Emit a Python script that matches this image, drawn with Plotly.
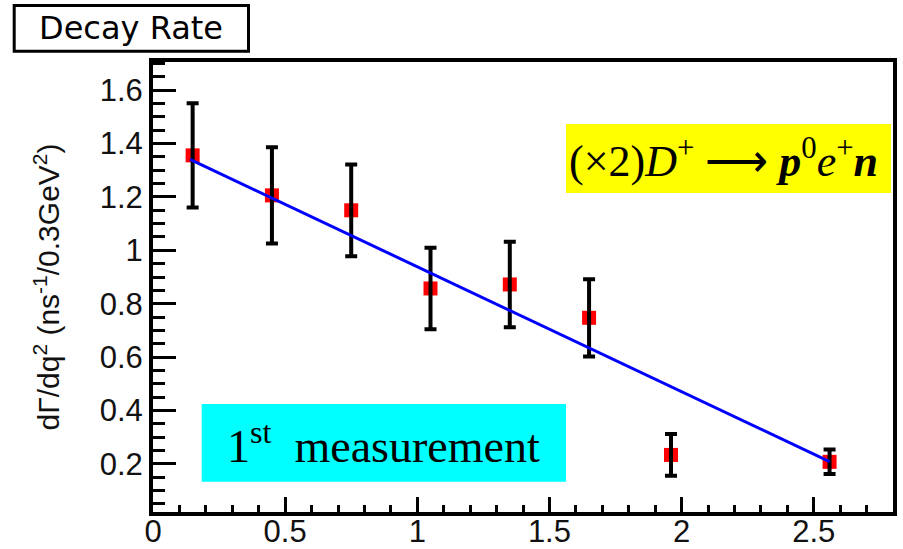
import plotly.graph_objects as go

# ---- data ----
q2 = [0.15, 0.45, 0.75, 1.05, 1.35, 1.65, 1.96, 2.56]
rate = [1.356, 1.206, 1.150, 0.857, 0.872, 0.747, 0.233, 0.207]
rate_err = [0.195, 0.180, 0.172, 0.153, 0.160, 0.145, 0.078, 0.046]
fit_x = [0.14, 2.56]
fit_y = [1.341, 0.208]

x_range = [0, 2.8]
y_range = [0.019, 1.706]

fig = go.Figure()

# markers
fig.add_trace(go.Scatter(
    x=q2, y=rate, mode="markers",
    marker=dict(symbol="square", size=14, color="#ff0000", line=dict(width=0)),
    showlegend=False, hoverinfo="skip"))

# error bars drawn above markers
fig.add_trace(go.Scatter(
    x=q2, y=rate, mode="markers",
    marker=dict(size=1, opacity=0),
    error_y=dict(type="data", array=rate_err, visible=True,
                 color="black", thickness=4, width=6),
    showlegend=False, hoverinfo="skip"))

# fit line
fig.add_trace(go.Scatter(
    x=fit_x, y=fit_y, mode="lines",
    line=dict(color="#0000ff", width=3),
    showlegend=False, hoverinfo="skip"))

axis_common = dict(
    showline=True, linecolor="black", linewidth=4, mirror=True,
    ticks="inside", tickcolor="black", tickwidth=3,
    showgrid=False, zeroline=False,
    tickfont=dict(family="Liberation Sans, Arial, sans-serif", size=31, color="#111111"),
)

fig.update_xaxes(
    range=x_range, tick0=0, dtick=0.5, ticklen=15, ticklabelstandoff=-11,
    minor=dict(ticks="inside", dtick=0.1, ticklen=7, tickwidth=3, tickcolor="black", showgrid=False),
    **axis_common)

fig.update_yaxes(
    range=y_range, tick0=0, dtick=0.2, ticklen=23,
    minor=dict(ticks="inside", dtick=0.05, ticklen=12, tickwidth=3, tickcolor="black", showgrid=False),
    title=dict(text="dΓ/dq<sup>2</sup> (ns<sup>-1</sup>/0.3GeV<sup>2</sup>)",
               font=dict(family="Liberation Sans, Arial, sans-serif", size=30, color="#111111"),
               standoff=32),
    **axis_common)

shapes = [
    # title box
    dict(type="rect", xref="paper", yref="paper",
         x0=(14.2 - 153) / 740, x1=(248.5 - 153) / 740,
         y0=(512 - 51.2) / 450, y1=(512 - 5.5) / 450,
         line=dict(color="black", width=3), fillcolor="white", layer="above"),
    # yellow box
    dict(type="rect", xref="paper", yref="paper",
         x0=(566 - 153) / 740, x1=(891 - 153) / 740,
         y0=(512 - 193) / 450, y1=(512 - 124) / 450,
         line=dict(width=0), fillcolor="#ffff00", layer="above"),
    # cyan box
    dict(type="rect", xref="paper", yref="paper",
         x0=(201.7 - 153) / 740, x1=(566 - 153) / 740,
         y0=(512 - 481.7) / 450, y1=(512 - 404) / 450,
         line=dict(width=0), fillcolor="#00ffff", layer="above"),
]

annotations = [
    dict(text="Decay Rate", xref="paper", yref="paper",
         x=(131 - 153) / 740, y=(512 - 28) / 450, xanchor="center", yanchor="middle",
         showarrow=False,
         font=dict(family="DejaVu Sans, sans-serif", size=32, color="black")),
    dict(text="(×2)<i>D</i><sup>+</sup> ⟶ <b><i>p</i></b><sup>0</sup><i>e</i><sup>+</sup><b><i>n</i></b>",
         xref="paper", yref="paper",
         x=(723 - 153) / 740, y=(512 - 158) / 450, xanchor="center", yanchor="middle",
         showarrow=False,
         font=dict(family="Liberation Serif, Times New Roman, serif", size=44, color="black")),
    dict(text="1<sup>st</sup>  measurement",
         xref="paper", yref="paper",
         x=(383 - 153) / 740, y=(512 - 443) / 450, xanchor="center", yanchor="middle",
         showarrow=False,
         font=dict(family="Liberation Serif, Times New Roman, serif", size=46, color="black")),
]

fig.update_layout(
    width=903, height=549,
    margin=dict(l=153, r=10, t=62, b=37, autoexpand=False),
    paper_bgcolor="white", plot_bgcolor="white",
    shapes=shapes, annotations=annotations,
    showlegend=False,
)

fig.write_html("out.html")
